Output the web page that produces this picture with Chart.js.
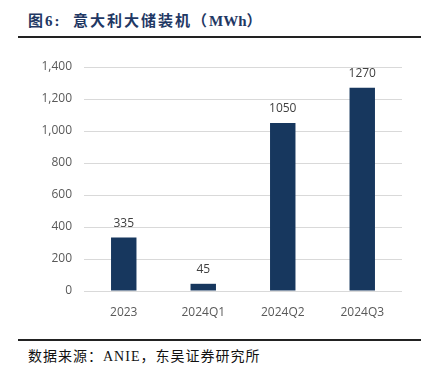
<!DOCTYPE html>
<html>
<head>
<meta charset="utf-8">
<script src="https://cdn.jsdelivr.net/npm/chart.js@4.4.0/dist/chart.umd.min.js"></script>
<style>
  html, body { margin: 0; padding: 0; background: #fff; }
  #page { position: relative; width: 433px; height: 368px; overflow: hidden; }
  #title {
    position: absolute; left: 28px; top: 9px; line-height: 21px;
    font: bold 15px "Liberation Serif", "Noto Sans CJK SC", serif;
    color: #1f3864; letter-spacing: 2px; white-space: nowrap;
  }
  #title .lat { letter-spacing: 0; }
  .rule { position: absolute; left: 18px; width: 403px; height: 2px; background: #222; }
  #source {
    position: absolute; left: 28px; top: 345px; line-height: 18px;
    font: 14px "Liberation Serif", "Noto Sans CJK SC", serif;
    color: #111; letter-spacing: 1px; white-space: nowrap;
  }
  #chartBox { position: absolute; left: 0; top: 40px; width: 433px; height: 290px; }
</style>
</head>
<body>
<div id="page">
  <div id="title">图6:&nbsp;&nbsp;意大利大储装机（<span class="lat">MWh</span>）</div>
  <div class="rule" style="top:36px"></div>
  <div id="chartBox"><canvas id="c"></canvas></div>
  <div class="rule" style="top:339px"></div>
  <div id="source">数据来源：ANIE，东吴证券研究所</div>
</div>
<script>
  // chart data
  var categories = ['2023', '2024Q1', '2024Q2', '2024Q3'];
  var capacityMWh = [335, 45, 1050, 1270];
  var yTicks = [0, 200, 400, 600, 800, 1000, 1200, 1400];

  var tickFont = { family: '"Open Sans", "Noto Sans", sans-serif', size: 12 };

  // value labels above each bar
  var barLabels = {
    id: 'barLabels',
    afterDatasetsDraw: function (chart) {
      var ctx = chart.ctx;
      var meta = chart.getDatasetMeta(0);
      ctx.save();
      ctx.font = '12px "Open Sans", "Noto Sans", sans-serif';
      ctx.fillStyle = '#404040';
      ctx.textAlign = 'center';
      ctx.textBaseline = 'bottom';
      meta.data.forEach(function (bar, i) {
        ctx.fillText(String(capacityMWh[i]), bar.x, bar.y - 8);
      });
      ctx.restore();
    }
  };

  new Chart(document.getElementById('c'), {
    type: 'bar',
    data: {
      labels: categories,
      datasets: [{
        data: capacityMWh,
        backgroundColor: '#17375e',
        borderWidth: 0,
        barPercentage: 0.32,
        categoryPercentage: 1
      }]
    },
    options: {
      responsive: true,
      maintainAspectRatio: false,
      animation: false,
      layout: { padding: { top: 27, right: 31, left: 0, bottom: 0 } },
      plugins: {
        legend: { display: false },
        tooltip: { enabled: false }
      },
      scales: {
        x: {
          grid: { display: false },
          border: { display: false },
          ticks: { color: '#595959', font: tickFont, padding: 6 },
          afterFit: function (s) { s.height = 39; }
        },
        y: {
          min: 0,
          max: 1400,
          afterBuildTicks: function (s) {
            s.ticks = yTicks.map(function (v) { return { value: v }; });
          },
          grid: { color: '#d9d9d9', drawTicks: false },
          border: { display: false },
          ticks: {
            color: '#595959',
            font: tickFont,
            padding: 12,
            callback: function (v) { return v.toLocaleString('en-US'); }
          },
          afterFit: function (s) { s.width = 84; }
        }
      }
    },
    plugins: [barLabels]
  });
</script>
</body>
</html>
